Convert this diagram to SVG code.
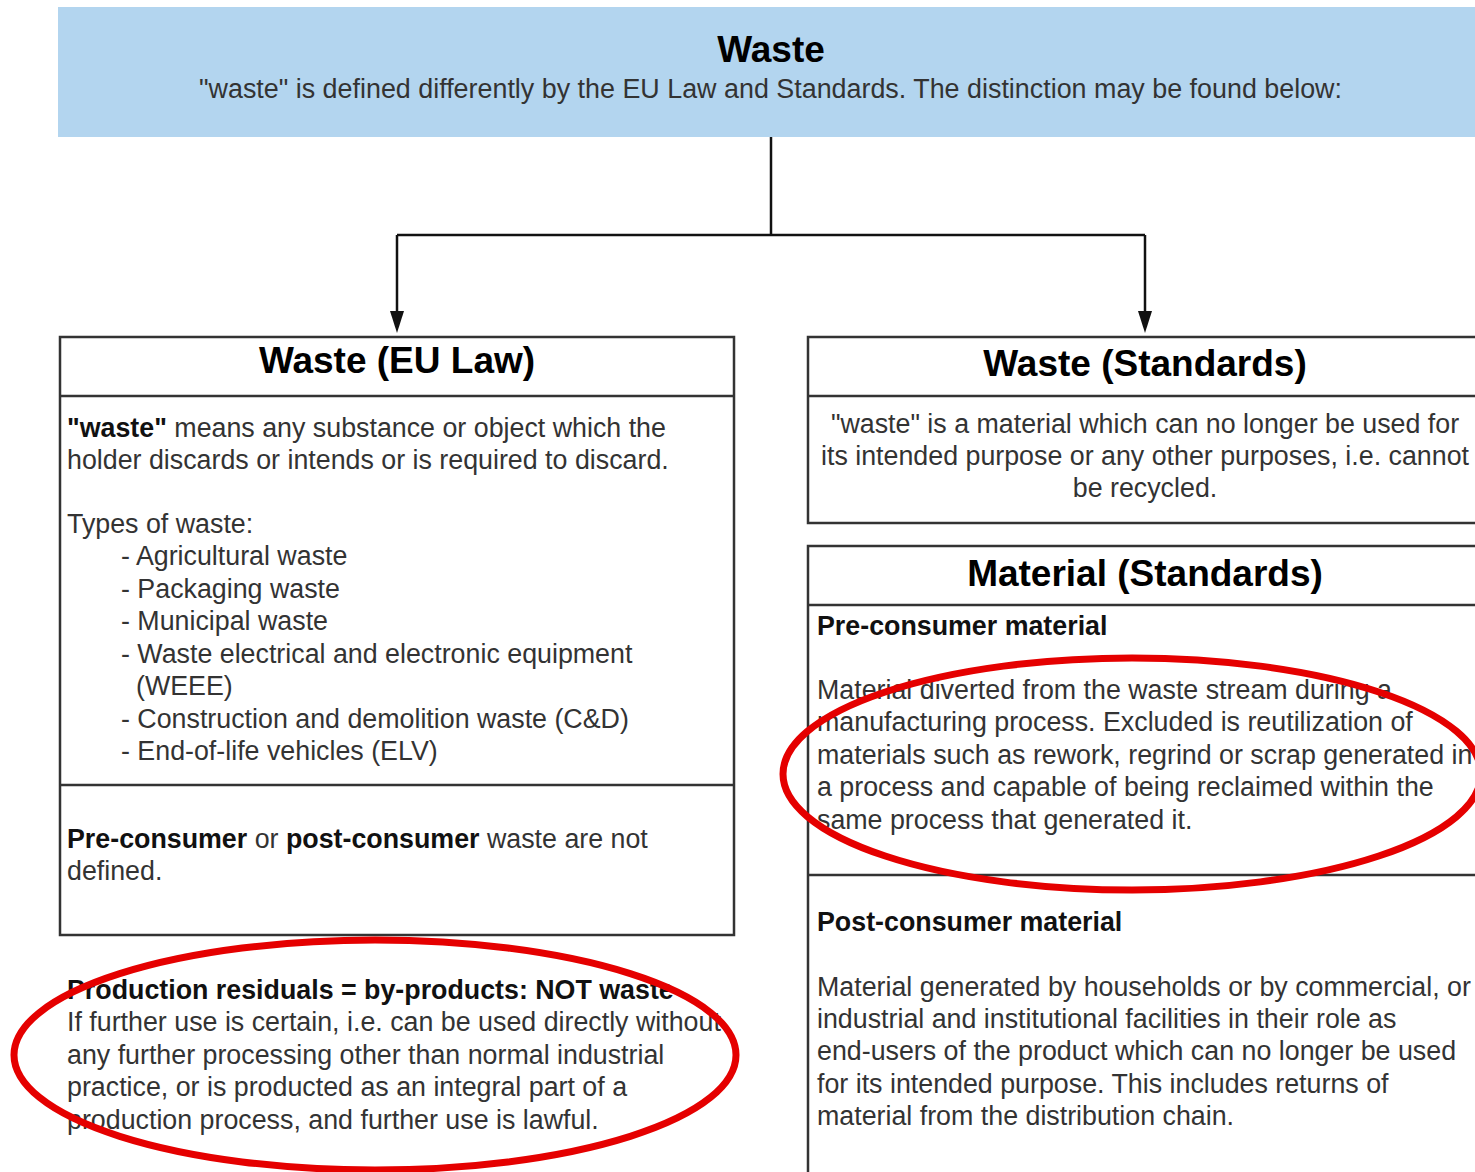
<svg xmlns="http://www.w3.org/2000/svg" width="1475" height="1172" viewBox="0 0 1475 1172">
<style>
text{font-family:"Liberation Sans",Arial,sans-serif;}
.ttl{font-size:37px;font-weight:bold;fill:#000;text-anchor:middle;}
.bd{font-size:26.8px;fill:#333;}
.b{font-weight:bold;fill:#111;}
.box{fill:#fff;stroke:#333;stroke-width:2.5;}
.ln{stroke:#333;stroke-width:2.5;fill:none;}
.con{stroke:#111;stroke-width:2.5;fill:none;}
.red{fill:none;stroke:#e50000;stroke-width:7;}
</style>
<rect width="1475" height="1172" fill="#fff"/>

<g id="top">
<rect x="58" y="7" width="1430" height="130" fill="#b3d5ef"/>
<text class="ttl" x="771" y="62">Waste</text>
<text class="bd" x="199" y="98" textLength="1143" lengthAdjust="spacingAndGlyphs">"waste" is defined differently by the EU Law and Standards. The distinction may be found below:</text>
</g>

<g id="connectors">
<path class="con" d="M771,137 V235"/>
<path class="con" d="M397,235 H1145"/>
<path class="con" d="M397,235 V311"/>
<path class="con" d="M1145,235 V311"/>
<path d="M390,311 L404,311 L397,333 Z" fill="#111"/>
<path d="M1138,311 L1152,311 L1145,333 Z" fill="#111"/>
</g>

<g id="eu-law">
<rect class="box" x="60" y="337" width="674" height="598"/>
<line class="ln" x1="60" y1="396" x2="734" y2="396"/>
<line class="ln" x1="60" y1="785" x2="734" y2="785"/>
<text class="ttl" x="397" y="373">Waste (EU Law)</text>
<text class="bd" x="67" y="437"><tspan class="b">"waste"</tspan> means any substance or object which the</text>
<text class="bd" x="67" y="469">holder discards or intends or is required to discard.</text>
<text class="bd" x="67" y="533">Types of waste:</text>
<text class="bd" x="121" y="565">- Agricultural waste</text>
<text class="bd" x="121" y="598">- Packaging waste</text>
<text class="bd" x="121" y="630">- Municipal waste</text>
<text class="bd" x="121" y="663">- Waste electrical and electronic equipment</text>
<text class="bd" x="136" y="695">(WEEE)</text>
<text class="bd" x="121" y="728">- Construction and demolition waste (C&amp;D)</text>
<text class="bd" x="121" y="760">- End-of-life vehicles (ELV)</text>
<text class="bd" x="67" y="848"><tspan class="b">Pre-consumer</tspan> or <tspan class="b">post-consumer</tspan> waste are not</text>
<text class="bd" x="67" y="880">defined.</text>
</g>

<g id="by-products">
<text class="bd b" x="67" y="999">Production residuals = by-products: NOT waste</text>
<text class="bd" x="67" y="1031">If further use is certain, i.e. can be used directly without</text>
<text class="bd" x="67" y="1064">any further processing other than normal industrial</text>
<text class="bd" x="67" y="1096">practice, or is producted as an integral part of a</text>
<text class="bd" x="67" y="1129">production process, and further use is lawful.</text>
</g>

<g id="waste-standards">
<rect class="box" x="808" y="337" width="690" height="186"/>
<line class="ln" x1="808" y1="396" x2="1498" y2="396"/>
<text class="ttl" x="1145" y="376">Waste (Standards)</text>
<text class="bd" x="1145" y="433" text-anchor="middle">"waste" is a material which can no longer be used for</text>
<text class="bd" x="1145" y="465" text-anchor="middle">its intended purpose or any other purposes, i.e. cannot</text>
<text class="bd" x="1145" y="497" text-anchor="middle">be recycled.</text>
</g>

<g id="material-standards">
<rect class="box" x="808" y="546" width="690" height="640"/>
<line class="ln" x1="808" y1="605" x2="1498" y2="605"/>
<line class="ln" x1="808" y1="875" x2="1498" y2="875"/>
<text class="ttl" x="1145" y="586">Material (Standards)</text>
<text class="bd b" x="817" y="635">Pre-consumer material</text>
<text class="bd" x="817" y="699">Material diverted from the waste stream during a</text>
<text class="bd" x="817" y="731">manufacturing process. Excluded is reutilization of</text>
<text class="bd" x="817" y="764">materials such as rework, regrind or scrap generated in</text>
<text class="bd" x="817" y="796">a process and capable of being reclaimed within the</text>
<text class="bd" x="817" y="829">same process that generated it.</text>
<text class="bd b" x="817" y="931">Post-consumer material</text>
<text class="bd" x="817" y="996">Material generated by households or by commercial, or</text>
<text class="bd" x="817" y="1028">industrial and institutional facilities in their role as</text>
<text class="bd" x="817" y="1060">end-users of the product which can no longer be used</text>
<text class="bd" x="817" y="1093">for its intended purpose. This includes returns of</text>
<text class="bd" x="817" y="1125">material from the distribution chain.</text>
</g>

<g id="highlights">
<ellipse class="red" cx="1132" cy="774" rx="349" ry="116"/>
<ellipse class="red" cx="375" cy="1055" rx="361" ry="115"/>
</g>
</svg>
